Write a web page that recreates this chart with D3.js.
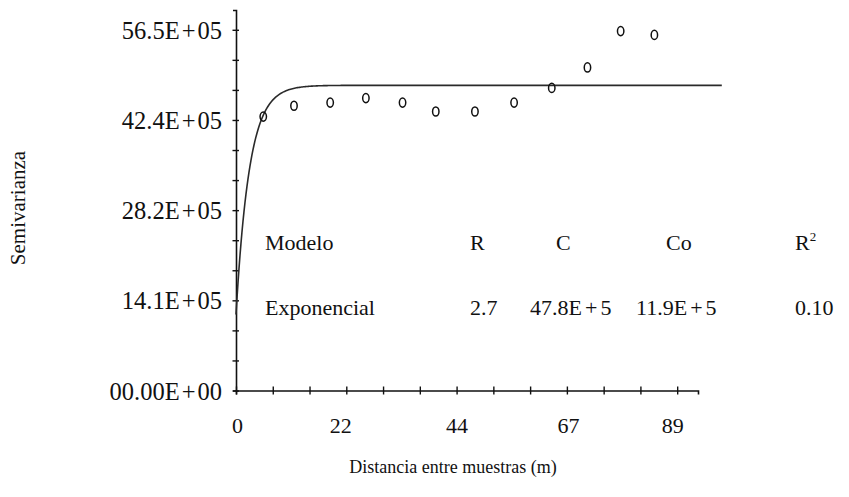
<!DOCTYPE html>
<html>
<head>
<meta charset="utf-8">
<script src="https://cdn.jsdelivr.net/npm/d3@7"></script>
<style>
  html, body { margin: 0; padding: 0; background: #fff; }
  svg text { font-family: "Liberation Serif", "Times New Roman", serif; fill: #111; }
</style>
</head>
<body>
<svg id="chart" width="849" height="497"></svg>
<script>
// ---- data (semivariance in units of E+05) ----
const lags = [5.5, 11.7, 19.0, 26.2, 33.6, 40.3, 48.2, 56.1, 63.7, 70.9, 77.6, 84.4];
const semivariance = [42.9, 44.6, 45.1, 45.8, 45.1, 43.7, 43.7, 45.1, 47.4, 50.6, 56.3, 55.7];

// exponential model parameters (from the table)
const modelRange = [2.7];
const modelSill = [47.8];
const modelNugget = [11.9];

const xTickLabels = ["0", "22", "44", "67", "89"];
const yTickLabels = ["00.00E+00", "14.1E+05", "28.2E+05", "42.4E+05", "56.5E+05"];
const xMaxLabel = 89, yMaxLabel = 56.5, tickCount = 12;

const tableHeader = ["Modelo", "R", "C", "Co", "R"];
const tableRow = ["Exponencial", "2.7", "47.8E+5", "11.9E+5", "0.10"];

// ---- layout ----
const svg = d3.select("#chart");
const x = d3.scaleLinear().domain([0, 93.2]).range([236, 698]);
const y = d3.scaleLinear().domain([0, 59.6]).range([390.5, 10]);
const xLabelNudge = [1, -6, 0, 1, -5];

// write a label into a text node, giving the "+" sign extra side room
function spacedPlus(sel, gap) {
  sel.each(function () {
    const t = d3.select(this);
    const s = t.text();
    const k = s.indexOf("+");
    if (k < 0) return;
    t.text(null);
    t.append("tspan").text(s.slice(0, k));
    t.append("tspan").attr("dx", gap).text("+");
    t.append("tspan").attr("dx", gap).text(s.slice(k + 1));
  });
}

const xTicks = d3.range(0, tickCount + 1).map(i => i * xMaxLabel / tickCount);
const yTicks = d3.range(0, tickCount + 1).map(i => i * yMaxLabel / tickCount);

// y axis
const yAxis = d3.axisLeft(y).tickValues(yTicks).tickSizeOuter(0).tickSize(3)
  .tickFormat((d, i) => i % 3 === 0 ? yTickLabels[i / 3] : "");
const gy = svg.append("g").attr("transform", `translate(${x(0)},0)`).call(yAxis);
gy.select(".domain").attr("stroke", "#111").attr("stroke-width", 1.6);
gy.selectAll(".tick line").attr("x1", -3.5).attr("x2", 3).attr("stroke", "#111").attr("stroke-width", 1.4);
gy.selectAll(".tick text").attr("x", -14).attr("dy", "0.35em")
  .style("font-size", "24.5px").style("font-family", "Liberation Serif").attr("fill", "#111")
  .call(spacedPlus, 2);

// x axis
const xAxis = d3.axisBottom(x).tickValues(xTicks).tickSizeOuter(0).tickSize(4)
  .tickFormat((d, i) => i % 3 === 0 ? xTickLabels[i / 3] : "");
const gx = svg.append("g").attr("transform", `translate(0,${y(0)})`).call(xAxis);
gx.select(".domain").attr("stroke", "#111").attr("stroke-width", 1.6);
gx.selectAll(".tick line").attr("y1", -4).attr("y2", 4).attr("stroke", "#111").attr("stroke-width", 1.4);
gx.selectAll(".tick text").attr("y", 35).attr("dy", "0.35em")
  .attr("dx", (d, i) => i % 3 === 0 ? xLabelNudge[i / 3] : 0)
  .style("font-size", "22px").style("font-family", "Liberation Serif").attr("fill", "#111");

// model curve
const hs = d3.range(0, 98.01, 0.2);
const model = h => modelNugget[0] + (modelSill[0] - modelNugget[0]) * (1 - Math.exp(-h / modelRange[0]));
svg.append("path")
  .datum(hs)
  .attr("fill", "none")
  .attr("stroke", "#2a2a2a")
  .attr("stroke-width", 1.6)
  .attr("d", d3.line().x(h => x(h)).y(h => y(model(h))));

// experimental points
svg.append("g").selectAll("ellipse")
  .data(lags.map((l, i) => [l, semivariance[i]]))
  .join("ellipse")
  .attr("cx", d => x(d[0]))
  .attr("cy", d => y(d[1]))
  .attr("rx", 3.2)
  .attr("ry", 4.6)
  .attr("fill", "none")
  .attr("stroke", "#111")
  .attr("stroke-width", 1.5);

// axis titles
svg.append("text")
  .attr("transform", "translate(25,208) rotate(-90)")
  .attr("text-anchor", "middle")
  .style("font-size", "21px")
  .text("Semivarianza");
svg.append("text")
  .attr("x", 453).attr("y", 473)
  .attr("text-anchor", "middle")
  .style("font-size", "18px")
  .text("Distancia entre muestras (m)");

// parameter table
const headerX = [265, 470, 556, 666, 795];
const rowX = [265, 470, 530, 636, 795];
const headerY = 250, rowY = 315;
const hdr = svg.append("g").selectAll("text").data(tableHeader).join("text")
  .attr("x", (d, i) => headerX[i]).attr("y", headerY)
  .style("font-size", "22px")
  .text(d => d);
hdr.filter((d, i) => i === 4).append("tspan")
  .attr("dy", -9).style("font-size", "13px").text("2");
svg.append("g").selectAll("text").data(tableRow).join("text")
  .attr("x", (d, i) => rowX[i]).attr("y", rowY)
  .style("font-size", "22px")
  .text(d => d)
  .call(spacedPlus, 3);
</script>
</body>
</html>
